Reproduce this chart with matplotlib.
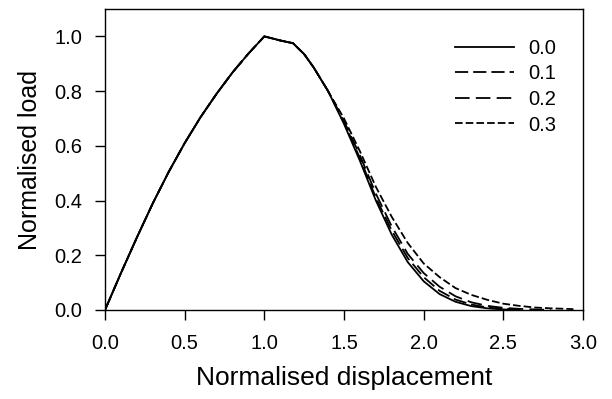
import numpy as np
import matplotlib.pyplot as plt

plt.rcParams['font.family'] = ['Liberation Sans', 'DejaVu Sans']
plt.rcParams['lines.scale_dashes'] = False

# common rising branch and peak
x_rise = [0.0, 0.1, 0.2, 0.3, 0.4, 0.5, 0.6, 0.7, 0.8, 0.9, 1.0, 1.1, 1.18, 1.25, 1.31, 1.4]
y_rise = [0.0, 0.135, 0.265, 0.39, 0.505, 0.61, 0.705, 0.79, 0.868, 0.937, 1.0, 0.985, 0.975, 0.935, 0.886, 0.80]

# softening branches
x00 = [1.5, 1.6, 1.7, 1.8, 1.9, 2.0, 2.1, 2.2, 2.3, 2.4, 2.5, 2.6]
y00 = [0.68, 0.545, 0.40, 0.275, 0.175, 0.105, 0.058, 0.030, 0.014, 0.006, 0.002, 0.0]
x01 = [1.5, 1.6, 1.7, 1.8, 1.9, 2.0, 2.1, 2.2, 2.3, 2.4, 2.5, 2.6]
y01 = [0.685, 0.555, 0.41, 0.29, 0.19, 0.12, 0.07, 0.038, 0.02, 0.009, 0.004, 0.001]
x02 = [1.5, 1.6, 1.7, 1.8, 1.9, 2.0, 2.1, 2.2, 2.3, 2.4, 2.5, 2.6, 2.7, 2.8]
y02 = [0.69, 0.565, 0.425, 0.305, 0.205, 0.135, 0.085, 0.05, 0.028, 0.015, 0.008, 0.004, 0.002, 0.0]
x03 = [1.5, 1.6, 1.7, 1.8, 1.9, 2.0, 2.1, 2.2, 2.3, 2.4, 2.5, 2.6, 2.7, 2.8, 2.9, 2.94]
y03 = [0.70, 0.58, 0.45, 0.34, 0.245, 0.17, 0.12, 0.08, 0.055, 0.037, 0.023, 0.015, 0.009, 0.006, 0.004, 0.003]

labels = ['0.0', '0.1', '0.2', '0.3']
branches = [(x00, y00), (x01, y01), (x02, y02), (x03, y03)]
dashes = [None, [9.5, 3.6], [10.5, 4.5], [5.5, 2.2]]

fig = plt.figure(figsize=(6.12, 3.99), dpi=100)
ax = fig.add_axes([0.1716, 0.2231, 0.7810, 0.7543])

for lab, (bx, by), d in zip(labels, branches, dashes):
    xs = x_rise + bx
    ys = y_rise + by
    if d is None:
        ax.plot(xs, ys, color='black', lw=1.3, label=lab)
    else:
        ax.plot(xs, ys, color='black', lw=1.3, dashes=d, label=lab)

ax.set_xlim(0, 3.0)
ax.set_ylim(0, 1.1)
ax.set_xticks(np.arange(0, 3.01, 0.5))
ax.set_yticks(np.arange(0, 1.01, 0.2))
ax.xaxis.set_major_formatter(plt.FormatStrFormatter('%.1f'))
ax.yaxis.set_major_formatter(plt.FormatStrFormatter('%.1f'))
ax.tick_params(direction='out', length=7, width=1, labelsize=14.5)
ax.tick_params(axis='x', pad=10)
ax.tick_params(axis='y', pad=9.5)
for s in ax.spines.values():
    s.set_linewidth(1.0)

ax.set_xlabel('Normalised displacement', fontsize=19, labelpad=10)
ax.set_ylabel('Normalised load', fontsize=18, labelpad=9)

ax.legend(loc='upper right', bbox_to_anchor=(0.981, 0.962), frameon=False, fontsize=14.5,
          handlelength=2.9, handletextpad=0.7, labelspacing=0.33)

fig.savefig('out.png', dpi=100)
